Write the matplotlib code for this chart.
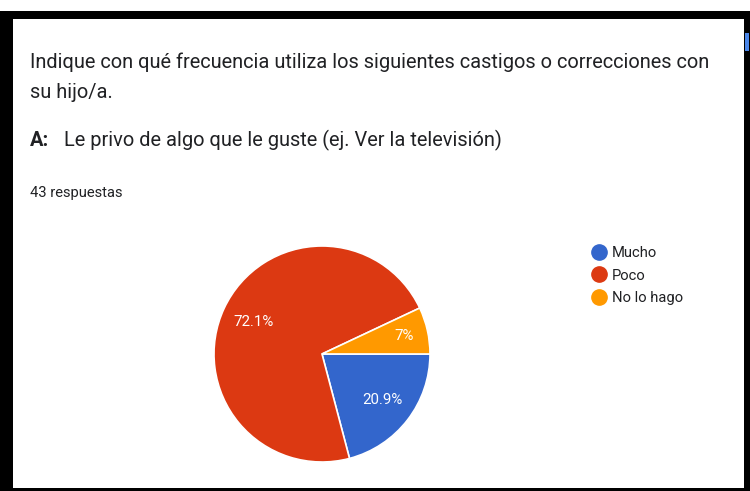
import numpy as np
import matplotlib.pyplot as plt
from matplotlib.lines import Line2D
from matplotlib.patches import Rectangle

W, H = 750, 491

labels = ["Mucho", "Poco", "No lo hago"]
shares = [20.9, 72.1, 7.0]
colors = ["#3366CC", "#DC3912", "#FF9900"]

title_lines = [
    "Indique con qué frecuencia utiliza los siguientes castigos o correcciones con",
    "su hijo/a.",
]
item_tag = "A:"
item_text = "Le privo de algo que le guste (ej. Ver la televisión)"
n_text = "43 respuestas"

plt.rcParams["font.family"] = ["Roboto", "DejaVu Sans"]


def fx(px):
    return px / W


def fy(py):
    return 1 - py / H


fig = plt.figure(figsize=(W / 100, H / 100), dpi=100, facecolor="white")

# screenshot frame: black border around the white card
fig.patches.append(Rectangle((0, 0), 1, fy(11), transform=fig.transFigure,
                             facecolor="black", edgecolor="none", zorder=0))
fig.patches.append(Rectangle((fx(13), fy(488)), fx(744 - 13), (488 - 19) / H,
                             transform=fig.transFigure, facecolor="white",
                             edgecolor="none", zorder=1))
fig.patches.append(Rectangle((fx(745), fy(51)), fx(4), 18 / H, transform=fig.transFigure,
                             facecolor="#4a86e8", edgecolor="none", zorder=2))

txt = "#202124"
fig.text(fx(30), fy(62), title_lines[0], fontsize=14.4, color=txt, va="center", zorder=3)
fig.text(fx(30), fy(92), title_lines[1], fontsize=14.4, color=txt, va="center", zorder=3)
fig.text(fx(30), fy(140), item_tag, fontsize=14.4, color=txt, va="center",
         fontweight="bold", zorder=3)
fig.text(fx(64), fy(140), item_text, fontsize=14.4, color=txt, va="center", zorder=3)
fig.text(fx(30), fy(193), n_text, fontsize=10.6, color=txt, va="center", zorder=3)

# pie
cx, cy, r = 322, 354, 108
ax = fig.add_axes([fx(cx - r), fy(cy + r), 2 * r / W, 2 * r / H], zorder=5)
wedges, _, autotexts = ax.pie(
    shares, colors=colors, startangle=0, counterclock=False,
    autopct=lambda p: f"{p:.1f}%".replace(".0%", "%"), pctdistance=0.7,
    wedgeprops=dict(edgecolor="white", linewidth=1.2),
    textprops=dict(color="white", fontsize=10.8),
)
# small slices get their label pushed further out, like Google Forms does
for w, t in zip(wedges, autotexts):
    if abs(w.theta2 - w.theta1) < 40:
        mid = np.deg2rad((w.theta1 + w.theta2) / 2)
        t.set_position((0.78 * np.cos(mid), 0.78 * np.sin(mid)))
ax.set_xlim(-1, 1)
ax.set_ylim(-1, 1)
ax.set_aspect("equal")

handles = [Line2D([], [], marker="o", linestyle="none", markersize=11,
                  markerfacecolor=c, markeredgecolor=c) for c in colors]
leg = fig.legend(handles, labels, loc="upper left", bbox_to_anchor=(fx(591), fy(246)),
                 frameon=False, fontsize=10.6, handletextpad=0.3, labelspacing=0.58,
                 handlelength=1.1, borderaxespad=0, borderpad=0, labelcolor=txt)
leg.set_zorder(6)

fig.savefig("out.png", dpi=100, facecolor="white")
